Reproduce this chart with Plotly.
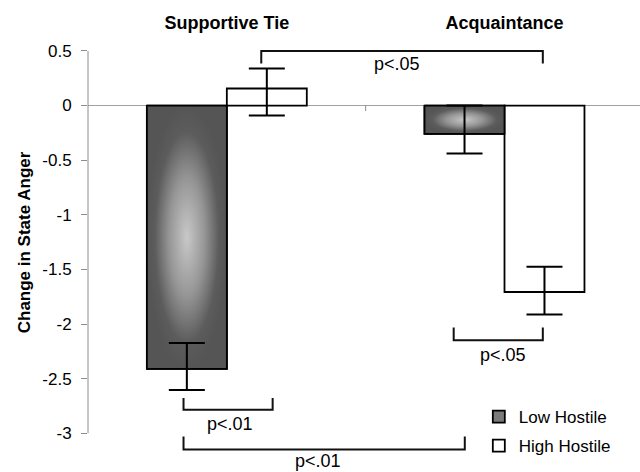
import plotly.graph_objects as go

# ---------------- data ----------------
categories = ["Supportive Tie", "Acquaintance"]
series_names = ["Low Hostile", "High Hostile"]
low_values = [-2.41, -0.26]
high_values = [0.156, -1.707]
low_err_plus = [0.235, 0.26]
low_err_minus = [0.195, 0.18]
high_err_plus = [0.183, 0.23]
high_err_minus = [0.248, 0.205]
y_tick_values = [0.5, 0, -0.5, -1, -1.5, -2, -2.5, -3]
y_tick_labels = ["0.5", "0", "-0.5", "-1", "-1.5", "-2", "-2.5", "-3"]
y_title = "Change in State Anger"

# significance brackets
bracket_labels = ["p<.05", "p<.01", "p<.01", "p<.05"]
bracket_x_left = [0.124, -0.156, -0.156, 0.817]
bracket_x_right = [1.138, 0.165, 0.857, 1.138]
bracket_y_line = [0.5, -2.784, -3.15, -2.149]
bracket_y_tip = [0.385, -2.678, -3.03, -2.033]
label_x = [0.613, 0.013, 0.328, 0.993]
label_y = [0.378, -2.916, -3.257, -2.287]

# ---------------- styling ----------------
FONT = "Liberation Sans, Arial, sans-serif"
BAR_W = 0.288
cat_pos = list(range(len(categories)))
low_centers = [p - BAR_W / 2 for p in cat_pos]
high_centers = [p + BAR_W / 2 for p in cat_pos]

fig = go.Figure()

fig.add_trace(go.Bar(
    x=cat_pos, y=low_values, width=BAR_W, offset=-BAR_W,
    name=series_names[0], legend="legend",
    marker=dict(color="#7a7a7a", line=dict(color="black", width=1.8)),
    hoverinfo="skip",
))
fig.add_trace(go.Bar(
    x=cat_pos, y=high_values, width=BAR_W, offset=0,
    name=series_names[1], legend="legend2",
    marker=dict(color="white", line=dict(color="black", width=1.8)),
    hoverinfo="skip",
))

# gradient overlay for the low-hostile bars (computed from the same data)
for p, v in zip(cat_pos, low_values):
    x0, x1 = p - BAR_W, p
    fig.add_trace(go.Scatter(
        x=[x0, x1, x1, x0, x0], y=[0, 0, v, v, 0],
        mode="lines", fill="toself",
        fillgradient=dict(type="radial",
                          colorscale=[[0, "#c8c8c8"], [0.45, "#959595"],
                                      [0.8, "#5c5c5c"], [1, "#555555"]]),
        line=dict(color="black", width=1.8),
        showlegend=False, hoverinfo="skip",
    ))

# error bars
fig.add_trace(go.Scatter(
    x=low_centers + high_centers, y=low_values + high_values,
    mode="markers", marker=dict(size=1, color="rgba(0,0,0,0)"),
    error_y=dict(type="data", symmetric=False,
                 array=low_err_plus + high_err_plus,
                 arrayminus=low_err_minus + high_err_minus,
                 color="black", thickness=2, width=18),
    showlegend=False, hoverinfo="skip",
))

shapes = []
# y axis line from -3 to 0.5
shapes.append(dict(type="line", xref="paper", x0=0, x1=0, yref="y",
                   y0=min(y_tick_values), y1=max(y_tick_values),
                   line=dict(color="#8c8c8c", width=1)))
# category separator tick
shapes.append(dict(type="line", xref="x", x0=0.5, x1=0.5, yref="y", y0=0, y1=-0.05,
                   line=dict(color="#8c8c8c", width=1)))
for xl, xr, yl, yt in zip(bracket_x_left, bracket_x_right, bracket_y_line, bracket_y_tip):
    shapes.append(dict(type="path", xref="x", yref="y",
                       path=f"M{xl},{yt} L{xl},{yl} L{xr},{yl} L{xr},{yt}",
                       line=dict(color="#111111", width=2)))

annotations = []
for t, lx, ly in zip(bracket_labels, label_x, label_y):
    annotations.append(dict(text=t, x=lx, y=ly, xref="x", yref="y",
                            showarrow=False, xanchor="center", yanchor="middle",
                            font=dict(family=FONT, size=18, color="black")))
annotations.append(dict(text=y_title, x=-0.116, y=-1.252, xref="paper", yref="y",
                        textangle=-90, showarrow=False, xanchor="center", yanchor="middle",
                        font=dict(family=FONT, size=17, color="black", weight="bold")))

legend_common = dict(font=dict(family=FONT, size=17, color="black"),
                     bgcolor="rgba(0,0,0,0)", xanchor="left", yanchor="middle",
                     itemclick=False, itemdoubleclick=False)

fig.update_layout(
    width=640, height=472,
    margin=dict(l=88, r=0, t=40, b=6, autoexpand=False),
    paper_bgcolor="white", plot_bgcolor="white",
    barmode="overlay",
    font=dict(family=FONT, color="black"),
    shapes=shapes, annotations=annotations,
    legend=dict(x=0.708, y=0.115, **legend_common),
    legend2=dict(x=0.708, y=0.047, **legend_common),
    xaxis=dict(range=[-0.5, 1.488], side="top", tickvals=cat_pos, ticktext=categories,
               showgrid=False, zeroline=False, showline=False, ticks="", automargin=False,
               tickfont=dict(family=FONT, size=18, color="black", weight="bold"),
               ticklabelstandoff=6),
    yaxis=dict(range=[-3.3, 0.6], tickvals=y_tick_values, ticktext=y_tick_labels,
               showgrid=False, zeroline=True, zerolinecolor="#a0a0a0", zerolinewidth=1,
               showline=False, ticks="outside", ticklen=6, tickcolor="#8c8c8c",
               automargin=False,
               tickfont=dict(family=FONT, size=17, color="black"),
               ticklabelstandoff=6),
)

fig.write_html("out.html",
               config=dict(displayModeBar=False),
               post_script="document.body.style.margin='0';document.body.style.padding='0';")
